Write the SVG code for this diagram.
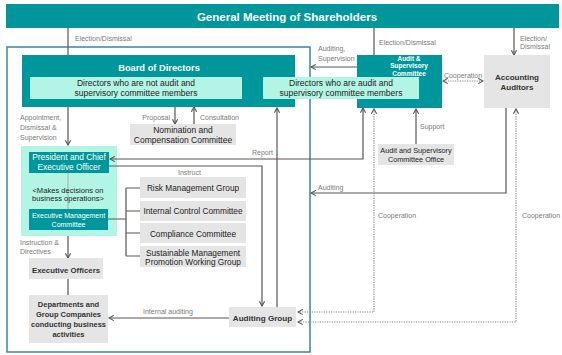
<svg xmlns="http://www.w3.org/2000/svg" width="562" height="355" viewBox="0 0 562 355">
<style>
text{font-family:"Liberation Sans",Arial,sans-serif}
.teal{fill:#00979c}
.mint{fill:#b2f5e4}
.gray{fill:#e5e5e5}
.wt{fill:#fff;text-anchor:middle}
.dk{fill:#222;text-anchor:middle}
.bd{fill:#333;font-weight:bold;text-anchor:middle}
.lbl{fill:#7a7a7a;font-size:7px}
.ln{fill:none;stroke:#5a5454;stroke-width:1.2}
.dot{fill:none;stroke:#888;stroke-width:1.2;stroke-dasharray:1.2 1.2}
</style>
<defs>
<marker id="ah" viewBox="0 0 8 8" refX="7" refY="4" markerWidth="7" markerHeight="7" markerUnits="userSpaceOnUse" orient="auto-start-reverse">
<path d="M1.5,1 L7,4 L1.5,7" fill="none" stroke="#555" stroke-width="1.3"/>
</marker>
</defs>

<g id="gms">
<rect x="6" y="4" width="553" height="24" class="teal"/>
<text x="287" y="21" fill="#fff" font-size="11.5" font-weight="bold" text-anchor="middle">General Meeting of Shareholders</text>
</g>

<g id="frame">
<rect x="7" y="47" width="303" height="305" fill="none" stroke="#3b84a6" stroke-width="1.5"/>
</g>

<g id="exec-panel">
<rect x="21" y="146" width="96" height="90" class="mint"/>
</g>

<g id="connectors">
<path class="ln" d="M68,28 V77" marker-end="url(#ah)"/>
<path class="ln" d="M374,28 V76" marker-end="url(#ah)"/>
<path class="ln" d="M514,28 V55" marker-end="url(#ah)"/>
<path class="ln" d="M357,67 H311" marker-end="url(#ah)"/>
<path class="dot" d="M443,81 H483" marker-start="url(#ah)" marker-end="url(#ah)"/>
<path class="ln" d="M68,107 V145" marker-end="url(#ah)"/>
<path class="ln" d="M175,107 V124" marker-end="url(#ah)"/>
<path class="ln" d="M194,124 V107" marker-end="url(#ah)"/>
<path class="ln" d="M110,159 H363 V108" marker-start="url(#ah)" marker-end="url(#ah)"/>
<path class="ln" d="M109,166 H262 V306" stroke="#3a3434" marker-end="url(#ah)"/>
<path class="ln" d="M277,307 V108" marker-end="url(#ah)"/>
<path class="ln" d="M108,219 H126 M126,188 V256 M126,188 H140 M126,211 H140 M126,233 H140 M126,256 H140"/>
<path d="M68,173 V209" stroke="#a8b8b4" stroke-width="1.2" fill="none"/>
<path class="ln" d="M68,236 V258" marker-end="url(#ah)"/>
<path class="ln" d="M68,279 V295"/>
<path class="ln" d="M229,318 H109" marker-end="url(#ah)"/>
<path class="ln" d="M416,144 V109" marker-end="url(#ah)"/>
<path class="ln" d="M506,108 V193 H311" marker-end="url(#ah)"/>
<path class="dot" d="M374,109 V312 H298" marker-start="url(#ah)" marker-end="url(#ah)"/>
<path class="dot" d="M516,109 V322 H298" marker-start="url(#ah)" marker-end="url(#ah)"/>
</g>

<g id="labels">
<text class="lbl" x="75" y="40.5">Election/Dismissal</text>
<text class="lbl" x="379" y="44.5">Election/Dismissal</text>
<text class="lbl" x="520" y="40.5">Election/</text>
<text class="lbl" x="520" y="49">Dismissal</text>
<text class="lbl" x="318" y="51">Auditing,</text>
<text class="lbl" x="318" y="60.5">Supervision</text>
<text class="lbl" x="463" y="77.5" text-anchor="middle">Cooperation</text>
<text class="lbl" x="20" y="119.5">Appointment,</text>
<text class="lbl" x="20" y="129.5">Dismissal &amp;</text>
<text class="lbl" x="20" y="139.5">Supervision</text>
<text class="lbl" x="170" y="119.5" text-anchor="end">Proposal</text>
<text class="lbl" x="200" y="119.5">Consultation</text>
<text class="lbl" x="252" y="154.5">Report</text>
<text class="lbl" x="178" y="174.5">Instruct</text>
<text class="lbl" x="420" y="128.5">Support</text>
<text class="lbl" x="318" y="189.5">Auditing</text>
<text class="lbl" x="378" y="217.5">Cooperation</text>
<text class="lbl" x="522" y="217.5">Cooperation</text>
<text class="lbl" x="20" y="244.5">Instruction &amp;</text>
<text class="lbl" x="20" y="253.5">Directives</text>
<text class="lbl" x="143" y="313.5">Internal auditing</text>
</g>

<g id="board">
<rect x="22" y="55" width="273" height="52" class="teal"/>
<text x="159" y="71.3" fill="#fff" font-size="9.3" font-weight="bold" text-anchor="middle">Board of Directors</text>
</g>

<g id="directors-not-audit">
<rect x="30" y="77" width="212" height="22" class="mint"/>
<text class="dk" style="font-size:8.5px" x="136" y="86">Directors who are not audit and</text>
<text class="dk" style="font-size:8.5px" x="136" y="96">supervisory committee members</text>
</g>

<g id="audit-committee">
<rect x="357" y="55" width="85" height="53" class="teal"/>
<text class="wt" style="font-size:6.5px;font-weight:bold" x="409" y="60.8">Audit &amp;</text>
<text class="wt" style="font-size:6.5px;font-weight:bold" x="409" y="68.3">Supervisory</text>
<text class="wt" style="font-size:6.5px;font-weight:bold" x="409" y="75.8">Committee</text>
</g>

<g id="directors-audit">
<rect x="263" y="77" width="156" height="22" class="mint"/>
<text class="dk" style="font-size:8.5px" x="341" y="86">Directors who are audit and</text>
<text class="dk" style="font-size:8.5px" x="341" y="96">supervisory committee members</text>
</g>

<g id="accounting-auditors">
<rect x="484" y="55" width="66" height="53" class="gray"/>
<text class="bd" style="font-size:8px" x="517" y="80">Accounting</text>
<text class="bd" style="font-size:8px" x="517" y="90">Auditors</text>
</g>

<g id="nomination">
<rect x="130" y="124" width="106" height="21" class="gray"/>
<text class="dk" style="font-size:8.5px" x="183" y="132.5">Nomination and</text>
<text class="dk" style="font-size:8.5px" x="183" y="142.5">Compensation Committee</text>
</g>

<g id="office">
<rect x="378" y="144" width="76" height="21" class="gray"/>
<text class="dk" style="font-size:7.3px" x="416" y="152.5">Audit and Supervisory</text>
<text class="dk" style="font-size:7.3px" x="416" y="162">Committee Office</text>
</g>

<g id="pceo">
<rect x="29" y="152" width="80" height="21" class="teal"/>
<text class="wt" style="font-size:8.4px" x="69" y="160">President and Chief</text>
<text class="wt" style="font-size:8.4px" x="69" y="170">Executive Officer</text>
</g>

<g id="decisions">
<text class="dk" style="font-size:7.6px" x="68" y="193">&lt;Makes decisions on</text>
<text class="dk" style="font-size:7.6px" x="68" y="201">business operations&gt;</text>
</g>

<g id="emc">
<rect x="29" y="209" width="79" height="21" class="teal"/>
<text class="wt" style="font-size:7px" x="68.5" y="217.5">Executive Management</text>
<text class="wt" style="font-size:7px" x="68.5" y="227">Committee</text>
</g>

<g id="risk">
<rect x="140" y="177" width="106" height="21" class="gray"/>
<text class="dk" style="font-size:8.3px" x="193" y="190.8">Risk Management Group</text>
</g>
<g id="internal-control">
<rect x="140" y="201" width="106" height="20" class="gray"/>
<text class="dk" style="font-size:8.3px" x="193" y="213.8">Internal Control Committee</text>
</g>
<g id="compliance">
<rect x="140" y="223" width="106" height="20" class="gray"/>
<text class="dk" style="font-size:8.3px" x="193" y="236.5">Compliance Committee</text>
</g>
<g id="sustainable">
<rect x="140" y="246" width="106" height="21" class="gray"/>
<text class="dk" style="font-size:8.3px" x="193" y="255.5">Sustainable Management</text>
<text class="dk" style="font-size:8.3px" x="193" y="265">Promotion Working Group</text>
</g>

<g id="executive-officers">
<rect x="29" y="258" width="74" height="21" class="gray"/>
<text class="bd" style="font-size:7.8px" x="66" y="272.6">Executive Officers</text>
</g>

<g id="departments">
<rect x="29" y="295" width="79" height="48" class="gray"/>
<text class="bd" style="font-size:7.5px" x="68.5" y="306.5">Departments and</text>
<text class="bd" style="font-size:7.5px" x="68.5" y="316.5">Group Companies</text>
<text class="bd" style="font-size:7.5px" x="68.5" y="326.5">conducting business</text>
<text class="bd" style="font-size:7.5px" x="68.5" y="336.5">activities</text>
</g>

<g id="auditing-group">
<rect x="229" y="307" width="67" height="20" class="gray"/>
<text class="bd" style="font-size:8.1px" x="262.5" y="320.8">Auditing Group</text>
</g>
</svg>
